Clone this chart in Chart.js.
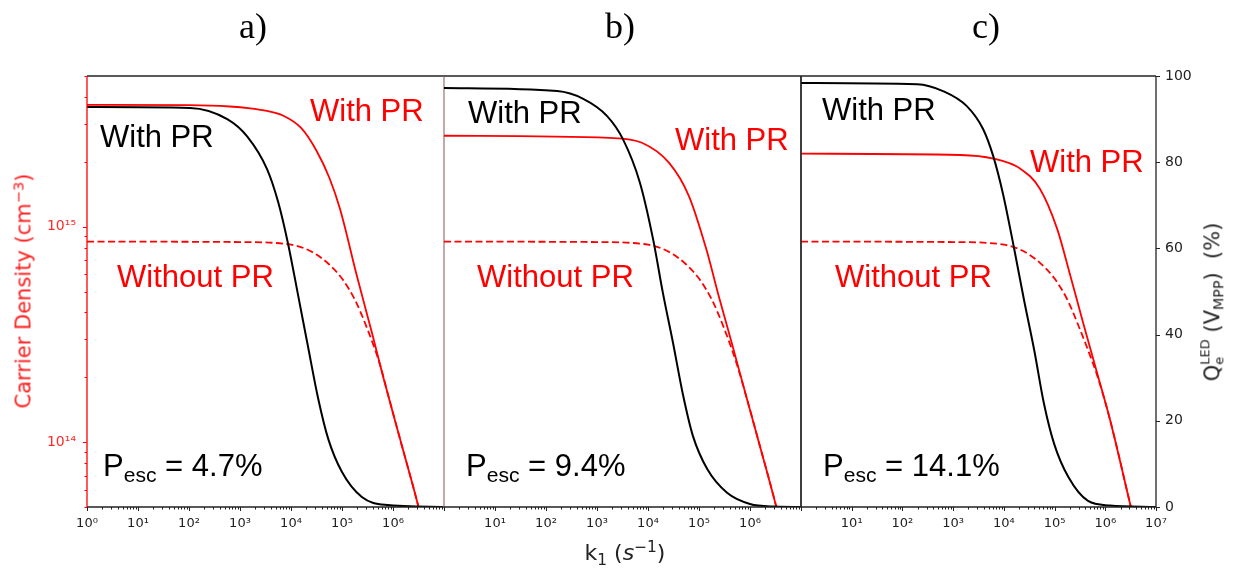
<!DOCTYPE html>
<html><head><meta charset="utf-8">
<script src="https://cdn.jsdelivr.net/npm/chart.js@4.4.0/dist/chart.umd.min.js"></script>
<style>
html,body{margin:0;padding:0;background:#fff;}
#wrap{position:relative;width:1236px;height:571px;overflow:hidden;background:#fff;}
canvas{position:absolute;top:0;}
.t{position:absolute;white-space:nowrap;font-family:"Liberation Sans",Arial,sans-serif;font-size:31px;line-height:31px;}
.ttl{position:absolute;white-space:nowrap;font-family:"Liberation Serif","Times New Roman",serif;font-size:36px;line-height:36px;top:8px;transform:translateX(-50%);color:#000;}
.ax{position:absolute;white-space:nowrap;font-family:"DejaVu Sans",sans-serif;line-height:1;}
.sb{font-size:0.68em;position:relative;top:0.28em;}
</style></head><body>
<div id="wrap">
<canvas id="ca" width="453" height="571" style="left:0px;width:453px;height:571px"></canvas>
<canvas id="cb" width="375" height="571" style="left:435px;width:375px;height:571px"></canvas>
<canvas id="cc" width="444" height="571" style="left:792px;width:444px;height:571px"></canvas>

<div class="ttl" style="left:253px">a)</div>
<div class="ttl" style="left:620px">b)</div>
<div class="ttl" style="left:986px">c)</div>

<!-- panel a annotations -->
<div class="t" style="left:100px;top:121px;color:#000">With PR</div>
<div class="t" style="left:310px;top:95px;color:#f00">With PR</div>
<div class="t" style="left:117px;top:261px;color:#f00">Without PR</div>
<div class="t" style="left:103px;top:450px;color:#000">P<span class="sb">esc</span> = 4.7%</div>
<!-- panel b annotations -->
<div class="t" style="left:468px;top:97px;color:#000">With PR</div>
<div class="t" style="left:675px;top:124px;color:#f00">With PR</div>
<div class="t" style="left:477px;top:261px;color:#f00">Without PR</div>
<div class="t" style="left:466px;top:450px;color:#000">P<span class="sb">esc</span> = 9.4%</div>
<!-- panel c annotations -->
<div class="t" style="left:822px;top:94px;color:#000">With PR</div>
<div class="t" style="left:1030px;top:146px;color:#f00">With PR</div>
<div class="t" style="left:835px;top:261px;color:#f00">Without PR</div>
<div class="t" style="left:823px;top:450px;color:#000">P<span class="sb">esc</span> = 14.1%</div>

<!-- axis titles -->
<div class="ax" style="left:24px;top:291px;font-size:21px;color:#ff2020;transform:translate(-50%,-50%) rotate(-90deg)">Carrier Density (cm<span style="font-size:0.7em;position:relative;top:-0.5em">−3</span>)</div>
<div class="ax" style="left:625px;top:553px;font-size:22px;color:#222;transform:translate(-50%,-50%)">k<span style="font-size:0.7em;position:relative;top:0.3em">1</span> (<i>s</i><span style="font-size:0.7em;position:relative;top:-0.5em">−1</span>)</div>
<div class="ax" style="left:1213px;top:302px;font-size:21px;color:#222;transform:translate(-50%,-50%) rotate(-90deg)">Q<span style="display:inline-block;vertical-align:middle;font-size:0.62em;line-height:1.05;position:relative;top:-0.05em"><span style="display:block">LED</span><span style="display:block">e</span></span> (V<span style="font-size:0.68em;position:relative;top:0.3em">MPP</span>)&nbsp;&nbsp;(%)</div>
</div>

<script>
// ---------- DATA ----------
// x: k1 (s^-1); Q: Qe_LED(V_MPP) in %; n: carrier density (cm^-3)
// Panel a) P_esc = 4.7%
const kQa = [1, 1.05e2, 5.62e2, 1.38e3, 3.39e3, 5.62e3, 8.71e3, 1.38e4, 2.14e4, 3.39e4, 5.37e4, 1e5, 2.45e5, 6.92e5, 1e7];
const qA  = [92.8, 92.6, 90.0, 86.0, 78.4, 70.7, 61.2, 49.1, 37.4, 25.3, 15.8, 8.1, 2.3, 0.5, 0];
const kSa = [1, 1e2, 6.31e2, 1.58e3, 3.16e3, 6.92e3, 1.58e4, 3.16e4, 5.62e4, 9.12e4, 1.95e5, 3.98e5, 6.31e5, 1.38e6, 3.09e6, 1e7];
const nSa = [3.67e15, 3.66e15, 3.61e15, 3.54e15, 3.45e15, 3.28e15, 2.87e15, 2.25e15, 1.69e15, 1.21e15, 5.93e14, 3.13e14, 2.04e14, 1.03e14, 5.11e13, 1.60e13];
const kDa = [1, 1e3, 1e4, 1.78e4, 3.16e4, 5.62e4, 1e5, 1.78e5, 3.16e5, 5.62e5, 7.94e5, 1.38e6, 3.09e6, 1e7];
const nDa = [8.52e14, 8.48e14, 8.25e14, 7.95e14, 7.42e14, 6.67e14, 5.74e14, 4.59e14, 3.34e14, 2.27e14, 1.67e14, 1.03e14, 5.11e13, 1.60e13];
// Panel b) P_esc = 9.4%
const kQb = [1, 1.66e2, 5.37e2, 1.58e3, 3.24e3, 6.92e3, 1.26e4, 1.95e4, 3.09e4, 4.90e4, 7.59e4, 1.45e5, 3.55e5, 1e6, 3.16e6, 1e7];
const qB  = [97.2, 96.5, 94.7, 90.7, 85.3, 75.3, 62.1, 49.8, 38.1, 25.8, 16.5, 8.8, 3.3, 0.7, 0.1, 0];
const kSb = [1, 1.74e3, 7.59e3, 2.57e4, 6.31e4, 1.38e5, 2.45e5, 4.47e5, 8.32e5, 1.51e6, 3.24e6, 1e7];
const nSb = [2.64e15, 2.58e15, 2.45e15, 1.98e15, 1.39e15, 7.91e14, 4.74e14, 2.84e14, 1.65e14, 9.89e13, 5.06e13, 1.65e13];
const kDb = [1, 1e3, 1e4, 1.78e4, 3.16e4, 5.62e4, 1e5, 1.78e5, 3.16e5, 5.62e5, 8.32e5, 1.51e6, 3.24e6, 1e7];
const nDb = [8.52e14, 8.48e14, 8.25e14, 7.95e14, 7.42e14, 6.67e14, 5.74e14, 4.59e14, 3.34e14, 2.27e14, 1.65e14, 9.89e13, 5.06e13, 1.65e13];
// Panel c) P_esc = 14.1%
const kQc = [1, 1.95e2, 6.31e2, 1.86e3, 3.89e3, 6.17e3, 9.55e3, 1.58e4, 2.51e4, 3.98e4, 6.17e4, 9.77e4, 1.86e5, 4.57e5, 1.23e6, 1e7];
const qC  = [98.4, 98.1, 96.5, 93.0, 87.7, 81.4, 72.8, 60.2, 47.9, 36.3, 24.0, 14.7, 7.0, 1.4, 0.35, 0];
const kSc = [1, 1.38e3, 6.17e3, 2.09e4, 5.13e4, 1.12e5, 2.04e5, 3.63e5, 6.92e5, 1.23e6, 3.09e6, 1e7];
const nSc = [2.18e15, 2.15e15, 2.07e15, 1.86e15, 1.50e15, 9.79e14, 5.93e14, 3.60e14, 2.09e14, 1.28e14, 5.16e13, 1.60e13];
const kDc = [1, 1e3, 1e4, 1.78e4, 3.16e4, 5.62e4, 1e5, 1.78e5, 3.16e5, 4.37e5, 6.92e5, 1.23e6, 3.09e6, 1e7];
const nDc = [8.52e14, 8.48e14, 8.25e14, 7.95e14, 7.42e14, 6.67e14, 5.74e14, 4.59e14, 3.34e14, 2.75e14, 2.04e14, 1.28e14, 5.16e13, 1.60e13];

// tick values
const xTickExp = [0, 1, 2, 3, 4, 5, 6, 7];
const xMinorMult = [1, 2, 3, 4, 5, 6, 7, 8, 9];
const nTicks = [5e13, 6e13, 7e13, 8e13, 9e13, 1e14, 2e14, 3e14, 4e14, 5e14, 6e14, 7e14, 8e14, 9e14, 1e15, 2e15, 3e15, 4e15, 5e15];
const qTicks = [0, 20, 40, 60, 80, 100];
const xLabA = [0, 1, 2, 3, 4, 5, 6];
const xLabB = [1, 2, 3, 4, 5, 6];
const xLabC = [1, 2, 3, 4, 5, 6, 7];

// ---------- helpers ----------
const SUP = {'0':'⁰','1':'¹','2':'²','3':'³','4':'⁴','5':'⁵','6':'⁶','7':'⁷','8':'⁸','9':'⁹','-':'⁻'};
const sup = s => String(s).split('').map(c => SUP[c]).join('');
const isPow10 = v => { const l = Math.log10(v); return Math.abs(l - Math.round(l)) < 1e-9; };
const xTicks = [];
xTickExp.forEach(e => { if (e < 7) xMinorMult.forEach(m => xTicks.push(m * Math.pow(10, e))); else xTicks.push(Math.pow(10, e)); });
const pts = (xs, ys) => xs.map((x, i) => ({x: x, y: ys[i]}));

const framePlugin = {
  id: 'frame',
  afterDraw(chart, args, o) {
    const {ctx, chartArea: a, scales} = chart;
    ctx.save();
    ctx.lineWidth = 1;
    const xs = scales.x;
    ctx.strokeStyle = '#222';
    xTicks.forEach(v => {
      const px = Math.round(xs.getPixelForValue(v)) + 0.5;
      const len = isPow10(v) ? 4 : 2.5;
      ctx.beginPath(); ctx.moveTo(px, a.bottom); ctx.lineTo(px, a.bottom + len); ctx.stroke();
    });
    if (o.leftTicks) {
      const ys = scales.yN;
      ctx.strokeStyle = '#f00';
      nTicks.forEach(v => {
        const py = Math.round(ys.getPixelForValue(v)) + 0.5;
        const len = isPow10(v) ? 4 : 2.5;
        ctx.beginPath(); ctx.moveTo(a.left, py); ctx.lineTo(a.left - len, py); ctx.stroke();
      });
    }
    if (o.rightTicks) {
      const ys = scales.yQ;
      ctx.strokeStyle = '#222';
      qTicks.forEach(v => {
        const py = Math.round(ys.getPixelForValue(v)) + 0.5;
        ctx.beginPath(); ctx.moveTo(a.right, py); ctx.lineTo(a.right + 4, py); ctx.stroke();
      });
    }
    ctx.lineWidth = 1.3;
    const edge = (x1, y1, x2, y2, c) => { if (!c) return; ctx.strokeStyle = c; ctx.beginPath(); ctx.moveTo(x1, y1); ctx.lineTo(x2, y2); ctx.stroke(); };
    edge(a.left, a.top, a.right, a.top, o.top);
    edge(a.left, a.bottom, a.right, a.bottom, o.bottom);
    edge(a.left, a.top, a.left, a.bottom, o.left);
    edge(a.right, a.top, a.right, a.bottom, o.right);
    ctx.restore();
  }
};

function makePanel(id, p) {
  const base = {pointRadius: 0, fill: false, cubicInterpolationMode: 'monotone'};
  const datasets = [
    Object.assign({}, base, {label: 'Qe', data: pts(p.kQ, p.q), yAxisID: 'yQ', borderColor: '#000', borderWidth: 2}),
    Object.assign({}, base, {label: 'n with PR', data: pts(p.kS, p.nS), yAxisID: 'yN', borderColor: '#ff0000', borderWidth: 1.8}),
    Object.assign({}, base, {label: 'n without PR', data: pts(p.kD, p.nD), yAxisID: 'yN', borderColor: '#ff0000', borderWidth: 1.8, borderDash: [7, 3.5]})
  ];
  return new Chart(document.getElementById(id), {
    type: 'line',
    data: {datasets},
    plugins: [framePlugin],
    options: {
      responsive: false, animation: false, devicePixelRatio: 1,
      layout: {padding: p.padding},
      plugins: {legend: {display: false}, tooltip: {enabled: false}, frame: p.frame},
      scales: {
        x: {
          type: 'logarithmic', position: 'bottom', min: 1, max: 1e7,
          afterBuildTicks: s => { s.ticks = xTicks.map(v => ({value: v})); },
          afterFit: s => { s.height = 64; },
          grid: {display: false, drawTicks: false}, border: {display: false},
          ticks: {
            autoSkip: false, maxRotation: 0, minRotation: 0, padding: 9, color: '#222',
            font: {family: 'DejaVu Sans', size: 13},
            callback: v => { if (!isPow10(v)) return ''; const e = Math.round(Math.log10(v)); return p.xLab.includes(e) ? '10' + sup(e) : ''; }
          }
        },
        yN: {
          type: 'logarithmic', position: 'left', min: 5e13, max: 5e15, display: p.showN,
          afterBuildTicks: s => { s.ticks = nTicks.map(v => ({value: v})); },
          afterFit: s => { s.width = p.showN ? 87 : 0; },
          grid: {display: false, drawTicks: false}, border: {display: false},
          ticks: {
            autoSkip: false, padding: 11, color: '#ff2a2a', font: {family: 'DejaVu Sans', size: 14},
            callback: v => isPow10(v) ? '10' + sup(Math.round(Math.log10(v))) : ''
          }
        },
        yQ: {
          type: 'linear', position: 'right', min: 0, max: 100, display: p.showQ,
          afterBuildTicks: s => { s.ticks = qTicks.map(v => ({value: v})); },
          afterFit: s => { s.width = p.showQ ? 80 : 0; },
          grid: {display: false, drawTicks: false}, border: {display: false},
          ticks: {autoSkip: false, padding: 9, color: '#222', font: {family: 'DejaVu Sans', size: 14}}
        }
      }
    }
  });
}

makePanel('ca', {kQ: kQa, q: qA, kS: kSa, nS: nSa, kD: kDa, nD: nDa, xLab: xLabA, showN: true, showQ: false,
  padding: {top: 76, left: 0, right: 9, bottom: 0},
  frame: {top: '#222', bottom: '#222', left: '#ff0000', right: '#a07c7c', leftTicks: true}});
makePanel('cb', {kQ: kQb, q: qB, kS: kSb, nS: nSb, kD: kDb, nD: nDb, xLab: xLabB, showN: false, showQ: false,
  padding: {top: 76, left: 9, right: 9, bottom: 0},
  frame: {top: '#222', bottom: '#222', left: null, right: '#222'}});
makePanel('cc', {kQ: kQc, q: qC, kS: kSc, nS: nSc, kD: kDc, nD: nDc, xLab: xLabC, showN: false, showQ: true,
  padding: {top: 76, left: 9, right: 0, bottom: 0},
  frame: {top: '#222', bottom: '#222', left: '#222', right: '#222', rightTicks: true}});
</script>
</body></html>
